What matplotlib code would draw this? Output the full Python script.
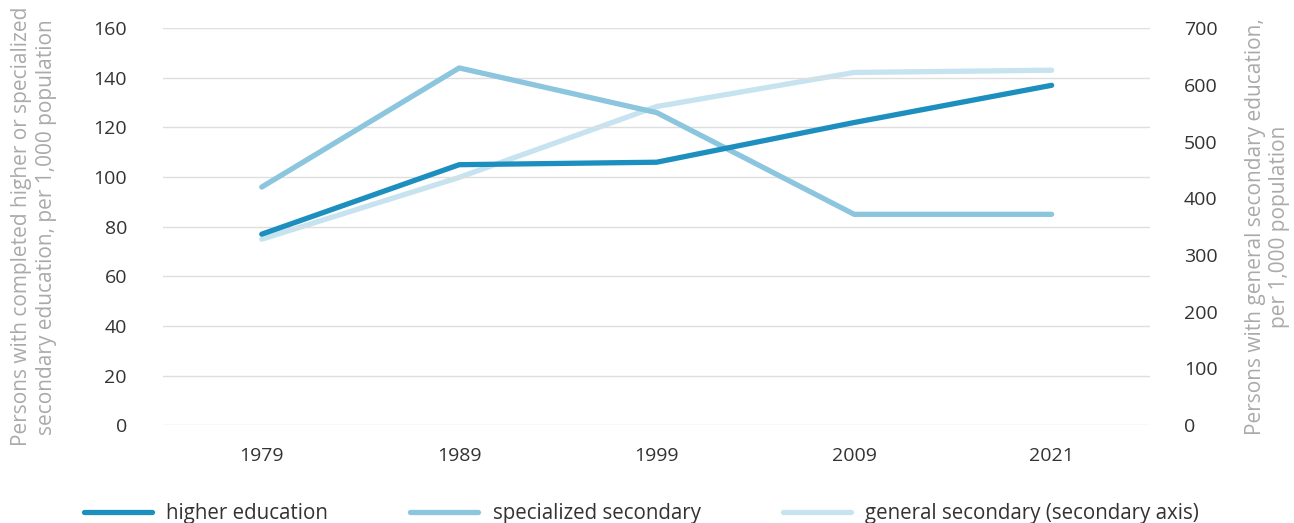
import matplotlib.pyplot as plt

years = ['1979', '1989', '1999', '2009', '2021']
higher = [77, 105, 106, 122, 137]
specialized = [96, 144, 126, 85, 85]
general = [328, 437, 562, 622, 626]

c_higher = '#1d8fbf'
c_spec = '#8bc5de'
c_gen = '#c6e3ef'

plt.rcParams['font.family'] = ['Open Sans', 'DejaVu Sans']

fig = plt.figure(figsize=(12.94, 5.23), dpi=100)
ax = fig.add_axes([0.126, 0.187, 0.763, 0.759])
ax2 = ax.twinx()

x = list(range(len(years)))
l1, = ax.plot(x, higher, color=c_higher, lw=3.8, solid_capstyle='round', zorder=3)
l2, = ax.plot(x, specialized, color=c_spec, lw=3.8, solid_capstyle='round', zorder=2)
l3, = ax2.plot(x, general, color=c_gen, lw=3.8, solid_capstyle='round')
ax.set_zorder(ax2.get_zorder() + 1)
ax.patch.set_visible(False)

ax.set_xlim(-0.5, 4.5)
ax.set_ylim(0, 160)
ax.set_yticks(range(0, 161, 20))
ax2.set_ylim(0, 700)
ax2.set_yticks(range(0, 701, 100))
ax.set_xticks(x)
ax.set_xticklabels(years)

ax.grid(axis='y', color='#dedede', lw=1)
for a in (ax, ax2):
    for s in a.spines.values():
        s.set_visible(False)
    a.tick_params(length=0, labelsize=14, colors='#333333')
ax.tick_params(axis='y', pad=26)
ax2.tick_params(axis='y', pad=24)
ax.tick_params(axis='x', pad=16)

ax.set_ylabel('Persons with completed higher or specialized\nsecondary education, per 1,000 population',
              color='#aaaaaa', fontsize=15, labelpad=26, linespacing=1.25)
ax2.set_ylabel('Persons with general secondary education,\nper 1,000 population',
               color='#aaaaaa', fontsize=15, labelpad=20, linespacing=1.2)

fig.legend([l1, l2, l3], ['higher education', 'specialized secondary', 'general secondary (secondary axis)'],
           loc='center left', bbox_to_anchor=(0.057, 0.018), ncol=3, frameon=False,
           fontsize=14.8, handlelength=3.3, columnspacing=4.0, handletextpad=0.7,
           labelcolor='#333333', borderpad=0)

fig.savefig('out.png', dpi=100)
